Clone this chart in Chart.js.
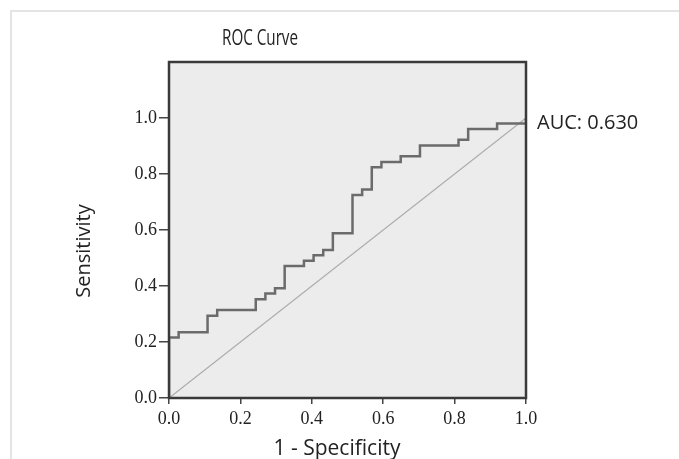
<!DOCTYPE html>
<html>
<head>
<meta charset="utf-8">
<script src="https://cdn.jsdelivr.net/npm/chart.js@4.4.1/dist/chart.umd.min.js"></script>
<style>
  html, body { margin: 0; padding: 0; background: #fff; }
  #wrap { width: 679px; height: 459px; }
</style>
</head>
<body>
<div id="wrap"><canvas id="roc-chart" width="679" height="459"></canvas></div>
<script>
// ROC curve corners: 1 - specificity and sensitivity
const fprValues = [0, 0, 0.027, 0.108, 0.135, 0.243, 0.270, 0.297, 0.324, 0.378, 0.405, 0.432,
  0.459, 0.514, 0.541, 0.568, 0.595, 0.649, 0.703, 0.811, 0.838, 0.919, 1];
const tprValues = [0, 0.216, 0.235, 0.294, 0.314, 0.353, 0.373, 0.392, 0.471, 0.490, 0.510, 0.529,
  0.588, 0.725, 0.745, 0.824, 0.843, 0.863, 0.902, 0.922, 0.961, 0.980, 1];

// reference (chance) line
const refX = [0, 1];
const refY = [0, 1];

const tickValues = [0, 0.2, 0.4, 0.6, 0.8, 1.0];
const titleText = 'ROC Curve';
const xTitle = '1 - Specificity';
const yTitle = 'Sensitivity';
const aucText = 'AUC: 0.630';

const tickFont = { family: "'Liberation Serif', 'DejaVu Serif', serif", size: 18 };
const labelFont = "'Open Sans', 'Liberation Sans', sans-serif";

function toPoints(xs, ys) {
  return xs.map((x, i) => ({ x: x, y: ys[i] }));
}

function useTicks(scale) {
  scale.ticks = tickValues.map(v => ({ value: v }));
}

// plot background, outer frame and the texts
const rocDecor = {
  id: 'rocDecor',
  beforeDraw(chart) {
    const ctx = chart.ctx;
    const a = chart.chartArea;
    ctx.save();
    ctx.fillStyle = '#ffffff';
    ctx.fillRect(0, 0, chart.width, chart.height);
    ctx.strokeStyle = '#e4e4e4';
    ctx.lineWidth = 2;
    ctx.beginPath();
    ctx.moveTo(11, chart.height);
    ctx.lineTo(11, 11);
    ctx.lineTo(chart.width, 11);
    ctx.stroke();
    ctx.fillStyle = '#ececec';
    ctx.fillRect(a.left, a.top, a.right - a.left, a.bottom - a.top);
    ctx.restore();
  },
  afterDraw(chart) {
    const ctx = chart.ctx;
    const a = chart.chartArea;
    ctx.save();
    ctx.strokeStyle = '#3a3a3a';
    ctx.lineWidth = 2.5;
    ctx.strokeRect(a.left, a.top, a.right - a.left, a.bottom - a.top);

    ctx.fillStyle = '#222';
    ctx.textBaseline = 'alphabetic';
    ctx.textAlign = 'center';
    // the title is set in a condensed face, so squeeze it to its width
    ctx.font = "21px " + labelFont;
    ctx.fillText(titleText, 260, 45, 76);

    ctx.font = '21px ' + labelFont;
    ctx.fillText(xTitle, 337, 455);

    ctx.textAlign = 'left';
    ctx.font = '20px ' + labelFont;
    ctx.fillText(aucText, 537, 129);

    ctx.translate(89.5, 251);
    ctx.rotate(-Math.PI / 2);
    ctx.textAlign = 'center';
    ctx.fillText(yTitle, 0, 0);
    ctx.restore();
  }
};

const rocCanvas = document.getElementById('roc-chart');

const rocData = {
  datasets: [{
    data: toPoints(fprValues, tprValues),
    showLine: true,
    stepped: 'before',
    borderColor: '#6b6b6b',
    borderWidth: 2.5,
    pointRadius: 0
  }, {
    data: toPoints(refX, refY),
    showLine: true,
    borderColor: '#adadad',
    borderWidth: 1.3,
    pointRadius: 0
  }]
};

const rocOptions = {
  responsive: false,
  animation: false,
  layout: { padding: { top: 62, right: 153, left: 0, bottom: 0 } },
  scales: {
    x: {
      type: 'linear',
      min: 0,
      max: 1,
      afterBuildTicks: useTicks,
      afterFit: scale => { scale.height = 61; },
      ticks: {
        callback: v => v.toFixed(1),
        font: tickFont,
        color: '#222',
        padding: 4,
        maxRotation: 0,
        autoSkip: false
      },
      grid: { drawOnChartArea: false, tickLength: 6, color: '#444', lineWidth: 1.5 },
      border: { color: '#3a3a3a', width: 2 }
    },
    y: {
      type: 'linear',
      min: 0,
      max: 1.2,
      afterBuildTicks: useTicks,
      afterFit: scale => { scale.width = 169; },
      ticks: {
        callback: v => v.toFixed(1),
        font: tickFont,
        color: '#222',
        padding: 2,
        autoSkip: false
      },
      grid: { drawOnChartArea: false, tickLength: 10, color: '#444', lineWidth: 1.5 },
      border: { color: '#3a3a3a', width: 2 }
    }
  },
  plugins: {
    legend: { display: false },
    tooltip: { enabled: false },
    title: { display: false }
  }
};

let rocChart = new Chart(rocCanvas, {
  type: 'scatter',
  data: rocData,
  options: rocOptions,
  plugins: [rocDecor]
});
</script>
</body>
</html>
